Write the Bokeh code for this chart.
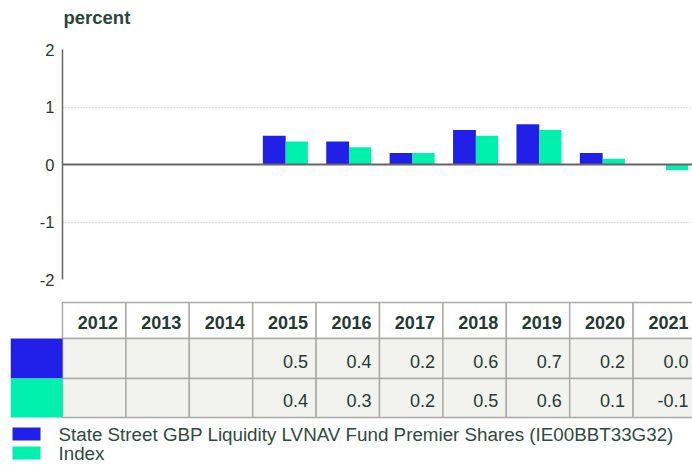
import math
from bokeh.plotting import figure
from bokeh.models import ColumnDataSource, Range1d, FixedTicker, Span
from bokeh.transform import dodge
from bokeh.core.properties import value
from bokeh.embed import file_html
from bokeh.resources import INLINE

# ---- data ----
years = [2012, 2013, 2014, 2015, 2016, 2017, 2018, 2019, 2020, 2021]
fund = [None, None, None, 0.5, 0.4, 0.2, 0.6, 0.7, 0.2, 0.0]
index = [None, None, None, 0.4, 0.3, 0.2, 0.5, 0.6, 0.1, -0.1]
series_names = ["State Street GBP Liquidity LVNAV Fund Premier Shares (IE00BBT33G32)", "Index"]
series_colors = ["#2020E8", "#00F0AE"]
y_ticks = [-2, -1, 0, 1, 2]
y_label = "percent"

FONT = "Liberation Sans"
TXT = "#233a32"

# ---- geometry ----
W = 692
PX = 63.4                       # pixels per year
X_START = years[0] - 0.5
X_END = X_START + (W - 62) / PX
X_TBL0 = X_START - 52 / PX

nan = float("nan")
src = ColumnDataSource(dict(
    year=years,
    fund=[nan if v is None else v for v in fund],
    index=[nan if v is None else v for v in index],
))

# ---- unit label strip ----
TTH = 34
tt = figure(width=W, height=TTH, x_range=Range1d(X_START, X_END), y_range=Range1d(TTH, 0),
            output_backend="svg", toolbar_location=None,
            x_axis_location=None, y_axis_location=None,
            min_border_left=62, min_border_right=0, min_border_top=0, min_border_bottom=0)
tt.outline_line_color = None
tt.grid.visible = False
tt.text(x=[X_START], y=[17], text=[y_label], x_offset=1, text_align="left",
        text_baseline="alphabetic", text_font=value(FONT), text_font_size="18.5px",
        text_font_style="bold", text_color="#2a4539")

# ---- chart ----
p = figure(width=W, height=256, x_range=Range1d(X_START, X_END), y_range=Range1d(-2, 2),
           output_backend="svg", toolbar_location=None,
           min_border_left=62, min_border_right=0, min_border_top=15, min_border_bottom=11)
p.outline_line_color = None
p.xaxis.visible = False
p.xgrid.visible = False
p.ygrid.ticker = FixedTicker(ticks=y_ticks)
p.ygrid.grid_line_color = "#bbbbbb"
p.ygrid.grid_line_dash = "1 2"
p.ygrid.grid_line_width = 1
p.yaxis.ticker = FixedTicker(ticks=y_ticks)
p.yaxis.major_label_overrides = {v: str(v) for v in y_ticks}
p.yaxis.major_tick_line_color = None
p.yaxis.major_tick_out = 0
p.yaxis.major_tick_in = 0
p.yaxis.minor_tick_line_color = None
p.yaxis.minor_tick_out = 0
p.yaxis.axis_line_color = "#666666"
p.yaxis.axis_line_width = 1.5
p.yaxis.major_label_text_font = FONT
p.yaxis.major_label_text_font_size = "16.5px"
p.yaxis.major_label_text_color = TXT
p.yaxis.major_label_standoff = 8

p.vbar(x=dodge("year", -0.16), top="fund", bottom=0, width=0.36, source=src,
       fill_color=series_colors[0], line_color=None)
p.vbar(x=dodge("year", 0.195), top="index", bottom=0, width=0.35, source=src,
       fill_color=series_colors[1], line_color=None)
p.add_layout(Span(location=0, dimension="width", line_color="#666666", line_width=2))

# ---- table ----
TH = 175
t = figure(width=W, height=TH, x_range=Range1d(X_TBL0, X_END), y_range=Range1d(TH, 0),
           output_backend="svg", toolbar_location=None,
           x_axis_location=None, y_axis_location=None,
           min_border_left=10, min_border_right=0, min_border_top=0, min_border_bottom=0)
t.outline_line_color = None
t.grid.visible = False

HDR = (12, 48)
ROWS = [(48, 88), (88, 127)]
BORDER = "#aaaaaa"

lefts = [y - 0.5 for y in years]
rights = [y + 0.5 for y in years]
# header cells
t.quad(left=lefts, right=rights, top=[HDR[0]] * len(years), bottom=[HDR[1]] * len(years),
       fill_color="white", line_color=BORDER, line_width=1.5)
# data cells
for r in ROWS:
    t.quad(left=lefts, right=rights, top=[r[0]] * len(years), bottom=[r[1]] * len(years),
           fill_color="#f2f2ee", line_color=BORDER, line_width=1.5)
# legend swatch column
for r, c in zip(ROWS, series_colors):
    t.quad(left=[X_TBL0], right=[X_START], top=[r[0]], bottom=[r[1]], fill_color=c, line_color=None)

t.text(x=rights, y=[(HDR[0] + HDR[1]) / 2 + 2] * len(years), text=[str(y) for y in years],
       x_offset=-8, text_align="right", text_baseline="middle",
       text_font=value(FONT), text_font_size="18px", text_font_style="bold", text_color=TXT)
for r, vals in zip(ROWS, [fund, index]):
    t.text(x=rights, y=[(r[0] + r[1]) / 2 + 2.5] * len(years),
           text=["" if v is None else f"{v:.1f}" for v in vals],
           x_offset=-8, text_align="right", text_baseline="middle",
           text_font=value(FONT), text_font_size="18px", text_color=TXT)

# legend
LEG = [143.5, 162.5]
for yy, c, name in zip(LEG, series_colors, series_names):
    t.quad(left=[X_TBL0 + 2 / PX], right=[X_TBL0 + 30 / PX], top=[yy - 6.5], bottom=[yy + 6.5],
           fill_color=c, line_color=None)
    t.text(x=[X_TBL0], y=[yy], text=[name], x_offset=48, text_align="left", text_baseline="middle",
           text_font=value(FONT), text_font_size="18.8px", text_color="#2e4a40")

open("out.html", "w").write(file_html([tt, p, t], INLINE))
